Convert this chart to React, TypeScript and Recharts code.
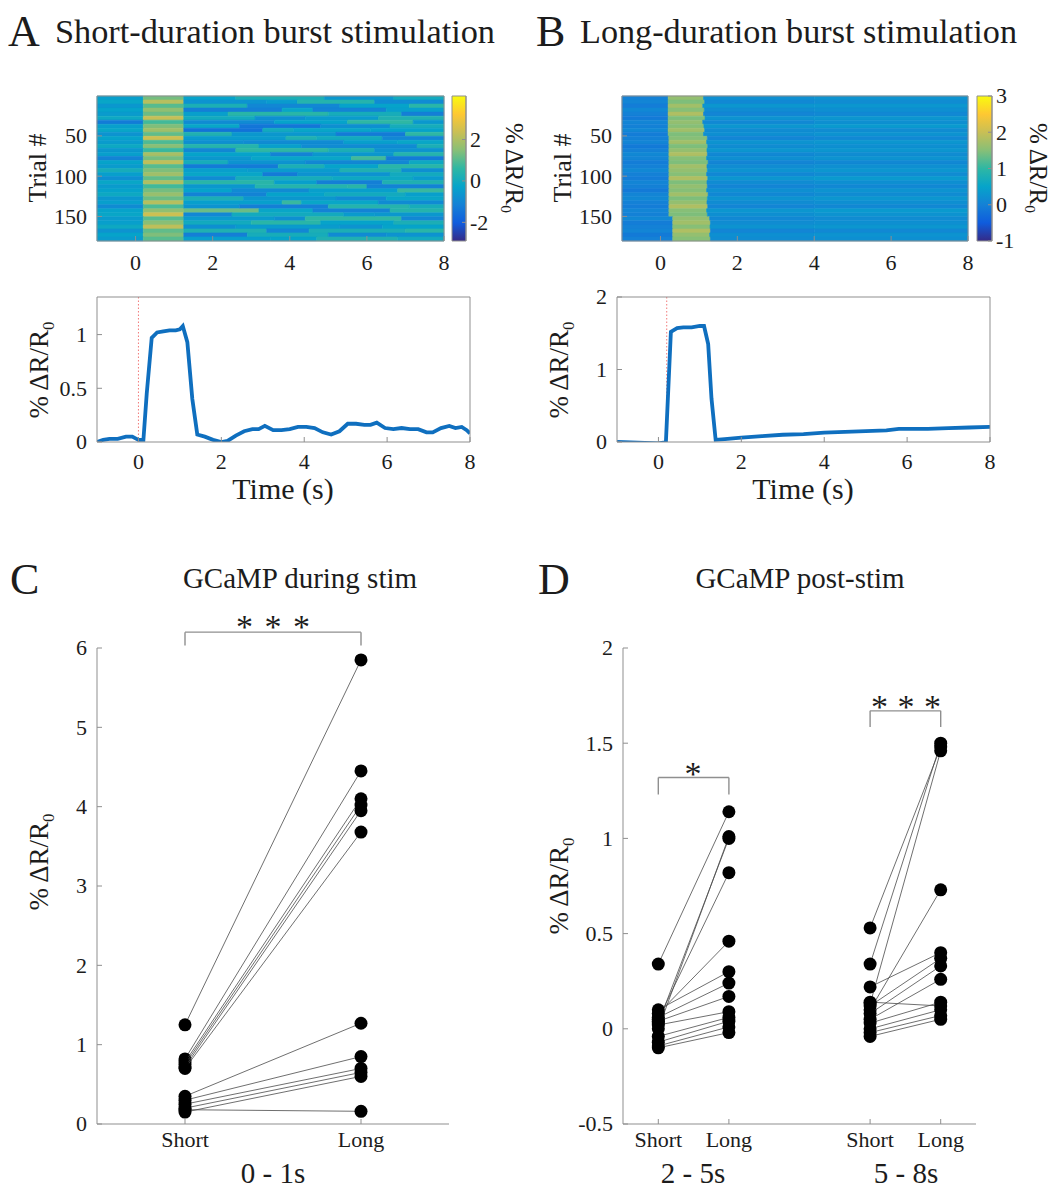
import React from 'react';
import {
  LineChart,
  Line,
  ScatterChart,
  Scatter,
  XAxis,
  YAxis,
  ReferenceArea,
  ReferenceLine,
} from 'recharts';

const FONT = '"Liberation Serif", "Times New Roman", Times, serif';
const INK = '#1c1c1c';
const AXIS = '#8f8f8f';
const BLUE = '#0f6fbf';

// ---------- heatmap A: 36 rows, 5 trials each ----------
const trialsPerRow = 5;
const aStimOn = 0.2;
const aStimOff = 1.25;
// per-row times where the post-stim streaks change shade
const aSplit1 = [2.6, 3.4, 2.9, 3.8, 2.4, 3.1, 3.6, 2.7, 3.3, 2.5, 3.9, 2.8, 3.2, 2.6, 3.5, 3.0, 2.4, 3.7, 2.9, 3.3, 2.6, 3.6, 3.1, 2.5, 3.4, 2.8, 3.8, 2.7, 3.2, 2.5, 3.6, 3.0, 2.6, 3.4, 2.9, 3.5];
const aSplit2 = [4.9, 4.2, 5.3, 4.6, 5.0, 4.4, 5.5, 4.8, 4.1, 5.2, 4.7, 5.4, 4.3, 5.0, 4.6, 5.6, 4.4, 4.9, 5.3, 4.2, 5.1, 4.7, 5.5, 4.5, 4.9, 5.2, 4.3, 5.0, 4.6, 5.4, 4.4, 4.8, 5.3, 4.5, 5.0, 4.7];
const aSplit3 = [6.7, 6.2, 7.1, 6.5, 6.9, 6.3, 7.2, 6.6, 6.1, 7.0, 6.4, 6.8, 7.3, 6.2, 6.7, 6.5, 7.1, 6.3, 6.9, 6.6, 7.2, 6.4, 6.0, 6.8, 7.0, 6.5, 6.3, 7.1, 6.6, 6.2, 6.9, 6.7, 6.4, 7.0, 6.5, 6.8];
const aBase = [-0.4, -0.2, -0.6, -0.3, -0.5, -0.1, -1.3, -0.4, -0.2, -0.7, -0.3, -0.5, -0.1, -0.6, -0.4, -1.1, -0.3, -0.5, 0.1, -0.4, -0.8, -0.2, -0.5, -0.3, -0.1, -0.6, -0.4, -0.9, -0.3, -0.2, -0.5, -0.4, -0.1, -0.7, -0.3, -0.5];
const aStim = [1.3, 2.1, 1.0, 1.6, 1.2, 2.3, 0.8, 1.4, 1.8, 1.1, 2.4, 0.9, 1.5, 0.7, 1.9, 1.3, 2.2, 1.0, 1.4, 1.8, 1.1, 2.0, 0.8, 1.3, 1.7, 1.2, 2.1, 0.9, 1.6, 2.4, 1.0, 1.5, 2.2, 1.1, 1.4, 1.0];
const aPost1 = [-0.3, -0.7, 0.2, -1.2, -0.4, 0.0, -0.9, -0.2, -1.5, 0.3, -0.5, -0.8, 0.4, -1.0, -0.3, -0.6, 0.1, -1.3, -0.4, -0.2, -0.9, 0.5, -0.6, -0.3, -1.1, 0.2, -0.4, -0.7, 1.2, -1.0, -0.5, 0.0, -0.8, 0.3, -1.2, -0.4];
const aPost2 = [0.2, -0.5, -1.0, -0.2, 0.5, -0.8, -0.3, -1.4, 0.0, -0.6, 0.3, -0.9, -0.4, 0.6, -1.1, -0.2, -0.7, 0.2, -0.5, -1.3, 0.1, -0.4, 0.4, -0.9, -0.3, -0.6, 0.7, -1.2, -0.2, 0.0, -0.8, 0.5, -0.5, -1.0, 0.1, -0.3];
const aPost3 = [-0.6, 0.4, -0.3, -1.1, 0.1, -0.5, 0.6, -0.8, -0.2, -1.3, 0.0, -0.4, -0.9, 0.2, -0.6, 0.8, -1.0, -0.3, 0.3, -0.7, -0.1, -1.2, 0.5, -0.4, 0.0, -0.9, -0.2, 0.4, -1.1, -0.5, 0.6, -0.3, -0.7, 0.2, -0.9, 0.3];
const aPost4 = [0.0, -0.9, 0.5, -0.4, -1.2, 0.3, -0.6, 0.1, -0.3, 0.6, -1.0, -0.2, 0.2, -0.7, 0.4, -1.3, -0.1, 0.5, -0.8, 0.0, -0.5, 0.3, -1.1, 0.7, -0.4, -0.2, -0.9, 0.1, 0.4, -0.6, -1.0, 0.2, -0.3, 0.5, -0.7, 0.0];
const aColorRange = [-2.9, 4.1];
const aColorTicks = [-2, 0, 2];

// ---------- heatmap B ----------
const bStimStart = [0.2, 0.2, 0.2, 0.2, 0.2, 0.2, 0.2, 0.2, 0.2, 0.2, 0.22, 0.22, 0.22, 0.22, 0.22, 0.22, 0.22, 0.22, 0.22, 0.22, 0.22, 0.22, 0.22, 0.22, 0.22, 0.22, 0.22, 0.22, 0.22, 0.22, 0.32, 0.32, 0.32, 0.32, 0.32, 0.32];
const bStimEnd = [1.12, 1.15, 1.1, 1.14, 1.12, 1.16, 1.1, 1.13, 1.15, 1.12, 1.22, 1.2, 1.23, 1.21, 1.22, 1.2, 1.24, 1.21, 1.22, 1.2, 1.23, 1.21, 1.22, 1.2, 1.24, 1.22, 1.21, 1.23, 1.2, 1.22, 1.28, 1.3, 1.29, 1.3, 1.28, 1.3];
const bBase = [0.0, 0.05, -0.05, 0.1, 0.0, -0.1, 0.05, 0.0, 0.1, -0.05, 0.0, 0.05, -0.1, 0.0, 0.1, 0.05, -0.05, 0.0, 0.1, 0.0, -0.05, 0.05, 0.0, -0.1, 0.05, 0.1, 0.0, -0.05, 0.05, 0.0, 0.1, -0.05, 0.0, 0.05, -0.1, 0.0];
const bStim = [1.6, 1.45, 1.7, 1.5, 1.8, 1.45, 1.6, 1.5, 1.7, 1.45, 1.5, 1.7, 1.45, 1.6, 1.8, 1.5, 1.45, 1.7, 1.6, 1.5, 1.8, 1.45, 1.6, 1.5, 1.7, 1.45, 1.6, 1.8, 1.5, 1.45, 1.6, 1.7, 1.5, 1.8, 1.6, 1.5];
const bPostEarly = [0.2, 0.1, 0.3, 0.15, 0.05, 0.25, 0.1, 0.3, 0.15, 0.2, 0.05, 0.25, 0.15, 0.3, 0.1, 0.2, 0.05, 0.15, 0.25, 0.1, 0.3, 0.15, 0.05, 0.2, 0.1, 0.25, 0.15, 0.05, 0.3, 0.2, 0.1, 0.15, 0.25, 0.05, 0.2, 0.15];
const bPostLate = [0.25, 0.15, 0.3, 0.2, 0.1, 0.3, 0.2, 0.35, 0.15, 0.25, 0.1, 0.3, 0.2, 0.3, 0.15, 0.25, 0.1, 0.2, 0.3, 0.15, 0.35, 0.2, 0.1, 0.25, 0.15, 0.3, 0.2, 0.1, 0.35, 0.25, 0.15, 0.2, 0.3, 0.1, 0.25, 0.2];
const bColorRange = [-1, 3];
const bColorTicks = [-1, 0, 1, 2, 3];

const timeTicks = [0, 2, 4, 6, 8];
const trialTicks = [50, 100, 150];

// ---------- mean traces ----------
const aTime = [-1, -0.85, -0.7, -0.5, -0.3, -0.15, 0, 0.12, 0.2, 0.32, 0.45, 0.6, 0.75, 0.9, 1.0, 1.07, 1.18, 1.3, 1.42, 1.6, 1.8, 2.0, 2.15, 2.35, 2.55, 2.75, 2.9, 3.05, 3.25, 3.45, 3.65, 3.85, 4.05, 4.25, 4.45, 4.65, 4.85, 5.05, 5.25, 5.45, 5.6, 5.75, 5.95, 6.15, 6.35, 6.55, 6.75, 6.95, 7.1, 7.3, 7.5, 7.65, 7.8, 7.92, 8.0];
const aSignal = [0.0, 0.02, 0.03, 0.03, 0.05, 0.05, 0.02, 0.02, 0.45, 0.97, 1.02, 1.03, 1.04, 1.04, 1.05, 1.08, 0.93, 0.4, 0.07, 0.05, 0.02, 0.0, 0.01, 0.06, 0.1, 0.12, 0.12, 0.15, 0.11, 0.11, 0.12, 0.14, 0.14, 0.13, 0.09, 0.07, 0.1, 0.17, 0.17, 0.16, 0.16, 0.18, 0.13, 0.12, 0.13, 0.12, 0.12, 0.09, 0.09, 0.13, 0.15, 0.13, 0.14, 0.11, 0.08];
const bTime = [-1, -0.5, 0, 0.12, 0.18, 0.3, 0.45, 0.6, 0.8, 1.0, 1.1, 1.2, 1.28, 1.38, 1.6, 2.0, 2.5, 3.0, 3.5, 4.0, 4.5, 5.0, 5.5, 5.8, 6.0, 6.5, 7.0, 7.5, 8.0];
const bSignal = [0.0, -0.01, -0.02, -0.01, 0.0, 1.52, 1.57, 1.58, 1.58, 1.6, 1.6, 1.35, 0.6, 0.03, 0.04, 0.06, 0.08, 0.1, 0.11, 0.13, 0.14, 0.15, 0.16, 0.18, 0.18, 0.18, 0.19, 0.2, 0.21];

// ---------- paired comparisons ----------
const cShort = [1.25, 0.82, 0.78, 0.75, 0.72, 0.7, 0.35, 0.3, 0.25, 0.2, 0.15, 0.18];
const cLong = [5.85, 4.45, 4.1, 4.02, 3.95, 3.68, 1.27, 0.85, 0.7, 0.65, 0.6, 0.16];
const d25Short = [0.34, 0.0, 0.03, 0.05, 0.08, 0.1, 0.06, 0.04, 0.02, -0.04, -0.07, -0.09, -0.1];
const d25Long = [1.14, 1.01, 1.0, 0.82, 0.46, 0.3, 0.24, 0.17, 0.09, 0.06, 0.04, 0.01, -0.02];
const d58Short = [0.53, 0.34, 0.13, 0.22, 0.1, 0.12, 0.08, 0.05, 0.03, 0.14, 0.0, -0.02, -0.04];
const d58Long = [1.48, 1.5, 1.46, 0.4, 0.73, 0.37, 0.33, 0.26, 0.14, 0.12, 0.1, 0.07, 0.05];
const cTicks = [0, 1, 2, 3, 4, 5, 6];
const dTicks = [-0.5, 0, 0.5, 1, 1.5, 2];

// ---------- colour map ----------
const PARULA = ['#352a87', '#0f5cdd', '#1481d6', '#06a4ca', '#2eb7a4', '#87bf77', '#c9bf55', '#fec832', '#f9fb0e'];

function hexToRgb(h: string) {
  return [1, 3, 5].map(i => parseInt(h.slice(i, i + 2), 16));
}

function parula(v: number, lo: number, hi: number) {
  const t = Math.min(1, Math.max(0, (v - lo) / (hi - lo))) * (PARULA.length - 1);
  const i = Math.min(PARULA.length - 2, Math.floor(t));
  const f = t - i;
  const a = hexToRgb(PARULA[i]);
  const b = hexToRgb(PARULA[i + 1]);
  const c = a.map((x, k) => Math.round(x + (b[k] - x) * f));
  return `rgb(${c[0]},${c[1]},${c[2]})`;
}

type Cell = { x1: number; x2: number; y1: number; y2: number; v: number };

const aCells: Cell[] = aBase.flatMap((_, i) => {
  const edges = [-1, aStimOn, aStimOff, aSplit1[i], aSplit2[i], aSplit3[i], 8];
  return [aBase, aStim, aPost1, aPost2, aPost3, aPost4].map((seg, s) => ({
    x1: edges[s],
    x2: edges[s + 1],
    y1: i * trialsPerRow + 0.5,
    y2: i * trialsPerRow + trialsPerRow + 0.5,
    v: seg[i],
  }));
});

const bCells: Cell[] = bBase.flatMap((_, i) => {
  const edges = [-1, bStimStart[i], bStimEnd[i], 4, 8];
  return [bBase, bStim, bPostEarly, bPostLate].map((seg, s) => ({
    x1: edges[s],
    x2: edges[s + 1],
    y1: i * trialsPerRow + 0.5,
    y2: i * trialsPerRow + trialsPerRow + 0.5,
    v: seg[i],
  }));
});

const aLine = aTime.map((t, i) => ({ t, v: aSignal[i] }));
const bLine = bTime.map((t, i) => ({ t, v: bSignal[i] }));

// ---------- layout helpers ----------
type Rect = { x0: number; y0: number; x1: number; y1: number };
type Pad = { l: number; r: number; t: number; b: number };

function frame(p: Rect, pad: Pad) {
  return {
    style: { position: 'absolute' as const, left: p.x0 - pad.l, top: p.y0 - pad.t },
    width: p.x1 - p.x0 + pad.l + pad.r,
    height: p.y1 - p.y0 + pad.t + pad.b,
  };
}

// serif tick labels drawn by hand so the font is really applied
const makeTick = (where: 'bottom' | 'side', fmt: (v: number) => string = v => String(v)) => (p: any) => (
  <text
    x={p.x}
    y={p.y}
    textAnchor={p.textAnchor}
    dy={where === 'bottom' ? '0.72em' : '0.34em'}
    fontFamily={FONT}
    fontSize={22}
    fill={INK}
  >
    {fmt(p.payload.value)}
  </text>
);
const bottomTick = makeTick('bottom');
const sideTick = makeTick('side');

const axisBits = {
  axisLine: { stroke: AXIS },
  tickLine: { stroke: AXIS },
  tickSize: -5,
  interval: 0 as const,
  allowDataOverflow: true,
};

const BOX_PAD: Pad = { l: 60, r: 6, t: 16, b: 40 };

function HeatPanel({ plot, cells, lo, hi }: { plot: Rect; cells: Cell[]; lo: number; hi: number }) {
  const f = frame(plot, BOX_PAD);
  return (
    <div style={f.style}>
      <ScatterChart width={f.width} height={f.height} margin={{ top: BOX_PAD.t - 1, right: BOX_PAD.r - 1, left: 0, bottom: 0 }}>
        <XAxis type="number" dataKey="x" domain={[-1, 8]} ticks={timeTicks} height={BOX_PAD.b} tick={bottomTick} tickMargin={18} {...axisBits} />
        <XAxis xAxisId="top" orientation="top" type="number" domain={[-1, 8]} ticks={timeTicks} height={1} tick={false} {...axisBits} />
        <YAxis type="number" dataKey="y" domain={[0.5, 180.5]} reversed ticks={trialTicks} width={BOX_PAD.l} tick={sideTick} tickMargin={15} {...axisBits} />
        <YAxis yAxisId="right" orientation="right" type="number" domain={[0.5, 180.5]} reversed ticks={trialTicks} width={1} tick={false} {...axisBits} />
        {cells.map((c, i) => {
          const col = parula(c.v, lo, hi);
          return (
            <ReferenceArea
              key={i}
              x1={c.x1}
              x2={c.x2}
              y1={c.y1}
              y2={c.y2}
              fill={col}
              fillOpacity={1}
              stroke={col}
              strokeWidth={0.6}
              ifOverflow="visible"
            />
          );
        })}
      </ScatterChart>
    </div>
  );
}

function ColorBar({ plot, lo, hi, ticks, id }: { plot: Rect; lo: number; hi: number; ticks: number[]; id: string }) {
  const pad: Pad = { l: 2, r: 40, t: 14, b: 14 };
  const f = frame(plot, pad);
  return (
    <div style={f.style}>
      <ScatterChart width={f.width} height={f.height} margin={{ top: pad.t, right: 0, left: pad.l, bottom: pad.b }}>
        <defs>
          <linearGradient id={id} x1="0" y1="1" x2="0" y2="0">
            {PARULA.map((c, i) => (
              <stop key={c} offset={i / (PARULA.length - 1)} stopColor={c} />
            ))}
          </linearGradient>
        </defs>
        <XAxis type="number" dataKey="x" domain={[0, 1]} hide height={0} allowDataOverflow />
        <YAxis orientation="right" type="number" dataKey="y" domain={[lo, hi]} ticks={ticks} width={pad.r} tick={sideTick} tickMargin={8} {...axisBits} tickSize={-4} />
        <ReferenceArea x1={0} x2={1} y1={lo} y2={hi} fill={`url(#${id})`} fillOpacity={1} stroke={AXIS} strokeWidth={1} ifOverflow="visible" />
      </ScatterChart>
    </div>
  );
}

function TracePanel({ plot, data, yMax, yTicks, stimX }: { plot: Rect; data: { t: number; v: number }[]; yMax: number; yTicks: number[]; stimX: number }) {
  const f = frame(plot, BOX_PAD);
  return (
    <div style={f.style}>
      <LineChart width={f.width} height={f.height} data={data} margin={{ top: BOX_PAD.t - 1, right: BOX_PAD.r - 1, left: 0, bottom: 0 }}>
        <XAxis type="number" dataKey="t" domain={[-1, 8]} ticks={timeTicks} height={BOX_PAD.b} tick={bottomTick} tickMargin={16} {...axisBits} />
        <XAxis xAxisId="top" orientation="top" type="number" domain={[-1, 8]} ticks={timeTicks} height={1} tick={false} {...axisBits} />
        <YAxis type="number" domain={[0, yMax]} ticks={yTicks} width={BOX_PAD.l} tick={sideTick} tickMargin={15} {...axisBits} />
        <YAxis yAxisId="right" orientation="right" type="number" domain={[0, yMax]} ticks={yTicks} width={1} tick={false} {...axisBits} />
        <ReferenceLine x={stimX} stroke="#f27a7a" strokeDasharray="1.5 2" strokeWidth={1} />
        <Line type="linear" dataKey="v" stroke={BLUE} strokeWidth={3.8} dot={false} isAnimationActive={false} />
      </LineChart>
    </div>
  );
}

const Dot = (p: any) => <circle cx={p.cx} cy={p.cy} r={6.5} fill="#000" />;

type Group = { xs: number; xl: number; short: number[]; long: number[] };
type Bracket = { xa: number; xb: number; top: number; leg: number };

const PAIR_PAD: Pad = { l: 60, r: 10, t: 80, b: 40 };

function PairedPanel({ plot, xDomain, xTicks, yDomain, yTicks, groups, brackets }: { plot: Rect; xDomain: number[]; xTicks: number[]; yDomain: number[]; yTicks: number[]; groups: Group[]; brackets: Bracket[] }) {
  const f = frame(plot, PAIR_PAD);
  const labelFor = (v: number) => (groups.some(g => g.xs === v) ? 'Short' : 'Long');
  return (
    <div style={f.style}>
      <ScatterChart width={f.width} height={f.height} margin={{ top: PAIR_PAD.t, right: PAIR_PAD.r, left: 0, bottom: 0 }}>
        <XAxis type="number" dataKey="x" domain={xDomain} ticks={xTicks} height={PAIR_PAD.b} tick={makeTick('bottom', labelFor)} tickMargin={12} {...axisBits} />
        <YAxis type="number" dataKey="y" domain={yDomain} ticks={yTicks} width={PAIR_PAD.l} tick={sideTick} tickMargin={15} {...axisBits} />
        {groups.flatMap((g, gi) =>
          g.short.map((s, i) => (
            <Scatter
              key={`${gi}-${i}`}
              data={[
                { x: g.xs, y: s },
                { x: g.xl, y: g.long[i] },
              ]}
              line={{ stroke: '#4a4a4a', strokeWidth: 0.8 }}
              shape={Dot}
              isAnimationActive={false}
            />
          ))
        )}
        {brackets.flatMap((b, i) => [
          <ReferenceLine key={`h${i}`} segment={[{ x: b.xa, y: b.top }, { x: b.xb, y: b.top }]} stroke={AXIS} strokeWidth={1.4} ifOverflow="visible" />,
          <ReferenceLine key={`l${i}`} segment={[{ x: b.xa, y: b.leg }, { x: b.xa, y: b.top }]} stroke={AXIS} strokeWidth={1.4} ifOverflow="visible" />,
          <ReferenceLine key={`r${i}`} segment={[{ x: b.xb, y: b.leg }, { x: b.xb, y: b.top }]} stroke={AXIS} strokeWidth={1.4} ifOverflow="visible" />,
        ])}
      </ScatterChart>
    </div>
  );
}

function RatioLabel({ x, y, rot, size = 27 }: { x: number; y: number; rot: number; size?: number }) {
  return (
    <text x={x} y={y} transform={`rotate(${rot} ${x} ${y})`} textAnchor="middle" fontSize={size} fontFamily={FONT} fill={INK}>
      % ΔR/R
      <tspan fontSize={size * 0.62} dy={size * 0.22}>0</tspan>
    </text>
  );
}

const T = (props: any) => <text fontFamily={FONT} fill={INK} {...props} />;

export default function App() {
  return (
    <div style={{ position: 'absolute', left: 0, top: 0, width: 1058, height: 1190, background: '#fff' }}>
      <HeatPanel plot={{ x0: 97, y0: 96, x1: 444, y1: 241 }} cells={aCells} lo={aColorRange[0]} hi={aColorRange[1]} />
      <ColorBar plot={{ x0: 452, y0: 96, x1: 466, y1: 241 }} lo={aColorRange[0]} hi={aColorRange[1]} ticks={aColorTicks} id="parulaA" />
      <HeatPanel plot={{ x0: 622, y0: 96, x1: 968, y1: 241 }} cells={bCells} lo={bColorRange[0]} hi={bColorRange[1]} />
      <ColorBar plot={{ x0: 977, y0: 96, x1: 992, y1: 241 }} lo={bColorRange[0]} hi={bColorRange[1]} ticks={bColorTicks} id="parulaB" />

      <TracePanel plot={{ x0: 97, y0: 297, x1: 470, y1: 442 }} data={aLine} yMax={1.35} yTicks={[0, 0.5, 1]} stimX={0} />
      <TracePanel plot={{ x0: 617, y0: 297, x1: 990, y1: 442 }} data={bLine} yMax={2} yTicks={[0, 1, 2]} stimX={0.2} />

      <PairedPanel
        plot={{ x0: 97, y0: 648, x1: 449, y1: 1124 }}
        xDomain={[0.5, 2.5]}
        xTicks={[1, 2]}
        yDomain={[0, 6]}
        yTicks={cTicks}
        groups={[{ xs: 1, xl: 2, short: cShort, long: cLong }]}
        brackets={[{ xa: 1, xb: 2, top: 6.2, leg: 6.03 }]}
      />
      <PairedPanel
        plot={{ x0: 623, y0: 648, x1: 976, y1: 1124 }}
        xDomain={[0.5, 5.5]}
        xTicks={[1, 2, 4, 5]}
        yDomain={[-0.5, 2]}
        yTicks={dTicks}
        groups={[
          { xs: 1, xl: 2, short: d25Short, long: d25Long },
          { xs: 4, xl: 5, short: d58Short, long: d58Long },
        ]}
        brackets={[
          { xa: 1, xb: 2, top: 1.32, leg: 1.23 },
          { xa: 4, xb: 5, top: 1.67, leg: 1.585 },
        ]}
      />

      <svg width={1058} height={1190} style={{ position: 'absolute', left: 0, top: 0, pointerEvents: 'none' }}>
        <T x={8} y={46} fontSize={44}>A</T>
        <T x={55} y={43} fontSize={34} textLength={440} lengthAdjust="spacingAndGlyphs">Short-duration burst stimulation</T>
        <T x={536} y={46} fontSize={44}>B</T>
        <T x={580} y={43} fontSize={34} textLength={437} lengthAdjust="spacingAndGlyphs">Long-duration burst stimulation</T>

        <T x={46} y={168} fontSize={26} textAnchor="middle" transform="rotate(-90 46 168)">Trial #</T>
        <T x={571} y={168} fontSize={26} textAnchor="middle" transform="rotate(-90 571 168)">Trial #</T>
        <RatioLabel x={506} y={168} rot={90} size={25} />
        <RatioLabel x={1030} y={168} rot={90} size={25} />

        <RatioLabel x={48} y={370} rot={-90} />
        <RatioLabel x={568} y={370} rot={-90} />
        <T x={283} y={499} fontSize={30} textAnchor="middle">Time (s)</T>
        <T x={803} y={499} fontSize={30} textAnchor="middle">Time (s)</T>

        <T x={10} y={594} fontSize={44}>C</T>
        <T x={538} y={594} fontSize={44}>D</T>
        <T x={300} y={588} fontSize={29} textAnchor="middle">GCaMP during stim</T>
        <T x={800} y={588} fontSize={29} textAnchor="middle">GCaMP post-stim</T>
        <RatioLabel x={48} y={862} rot={-90} />
        <RatioLabel x={568} y={886} rot={-90} />

        <T x={236} y={638} fontSize={34} textLength={74} lengthAdjust="spacing">* * *</T>
        <T x={693} y={785} fontSize={34} textAnchor="middle">*</T>
        <T x={871} y={718} fontSize={34} textLength={70} lengthAdjust="spacing">* * *</T>

        <T x={273} y={1183} fontSize={29} textAnchor="middle">0 - 1s</T>
        <T x={693} y={1183} fontSize={29} textAnchor="middle">2 - 5s</T>
        <T x={906} y={1183} fontSize={29} textAnchor="middle">5 - 8s</T>
      </svg>
    </div>
  );
}
